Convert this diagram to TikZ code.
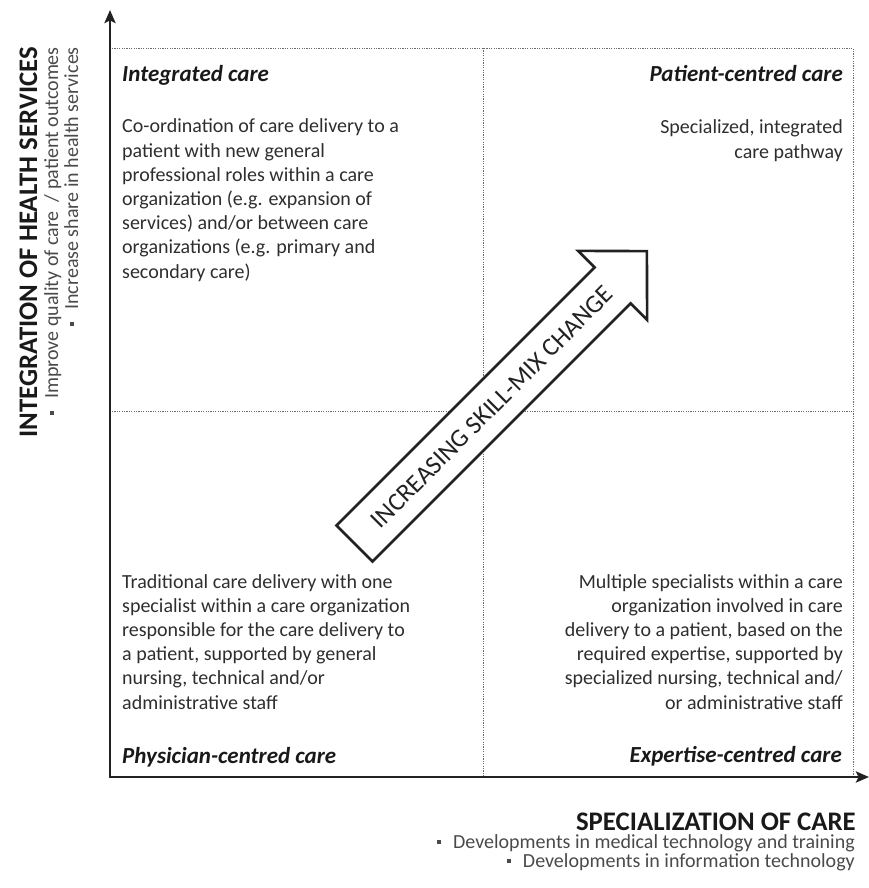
\documentclass[tikz,border=0pt]{standalone}
\usepackage{fontspec}
\setmainfont{Carlito}
\usetikzlibrary{arrows.meta}
\definecolor{bodyc}{HTML}{2E2E2E}
\definecolor{subc}{HTML}{4A4A4A}
\definecolor{axc}{HTML}{222222}
\definecolor{dotc}{HTML}{6A6A6A}
\newcommand{\sqb}{{\rule[0.18em]{0.2em}{0.2em}}\hspace{0.6em}}
\tikzset{
  body/.style={inner sep=0pt, text=bodyc, font=\fontsize{20}{24.2}\selectfont},
  qtitle/.style={inner sep=0pt, text=black!90, font=\fontsize{23}{24}\selectfont\bfseries\itshape},
  axtitle/.style={inner sep=0pt, text=black!90, font=\fontsize{26.8}{27}\selectfont\bfseries},
  subl/.style={inner sep=0pt, text=subc, font=\fontsize{20}{20}\selectfont},
  axis/.style={draw=axc, line width=2.6pt, -{Stealth[length=13pt,width=11pt,inset=2.5pt]}},
  grid/.style={draw=dotc, line width=0.9pt, dash pattern=on 1.2pt off 1.2pt},
  bigarrow/.style={draw=axc, line width=2.6pt, fill=white, line join=miter}
}
\begin{document}
\begin{tikzpicture}[x=1pt,y=-1pt]
\useasboundingbox (0,0) rectangle (869,888);
% grid
\coordinate (tl) at (112,48);
\coordinate (tm) at (483,48);
\coordinate (tr) at (853,48);
\coordinate (ml) at (112,411);
\coordinate (mr) at (853,411);
\coordinate (bm) at (483,777);
\coordinate (br) at (853,777);
\draw[grid] (tl) -- (tr) -- (br);
\draw[grid] (tm) -- (bm);
\draw[grid] (ml) -- (mr);
% axes
\coordinate (o) at (110,777);
\coordinate (ytip) at (110,10);
\coordinate (xo) at (109,777);
\coordinate (xtip) at (869,777);
\draw[axis] (o) -- (ytip);
\draw[axis] (xo) -- (xtip);
% big arrow
\coordinate (a1) at (336.5,525.5);
\coordinate (a2) at (594.6,267.4);
\coordinate (a3) at (578.1,250.9);
\coordinate (a4) at (646.9,251.1);
\coordinate (a5) at (647.1,319.9);
\coordinate (a6) at (630.6,303.4);
\coordinate (a7) at (372.5,561.5);
\draw[bigarrow] (a1) -- (a2) -- (a3) -- (a4) -- (a5) -- (a6) -- (a7) -- cycle;
\node[inner sep=0pt, rotate=45, text=axc, font=\fontsize{25.5}{26}\selectfont] (arrtext) at (492,407) {INCREASING SKILL-MIX CHANGE};
% quadrant texts
\node[qtitle, anchor=base west] (ictitle) at (122,82) {Integrated care};
\node[body, anchor=base west, align=left] (icbody) at (122,278) {Co-ordination of care delivery to a\\patient with new general\\professional roles within a care\\organization (e.g. expansion of\\services) and/or between care\\organizations (e.g. primary and\\secondary care)};
\node[qtitle, anchor=base east] (pctitle) at (843,82) {Patient-centred care};
\node[body, anchor=base east, align=right] (pcbody) at (843,158) {Specialized, integrated\\care pathway};
\node[body, anchor=base west, align=left] (phbody) at (122,709) {Traditional care delivery with one\\specialist within a care organization\\responsible for the care delivery to\\a patient, supported by general\\nursing, technical and/or\\administrative staff};
\node[qtitle, anchor=base west] (phtitle) at (122,763) {Physician-centred care};
\node[body, anchor=base east, align=right] (exbody) at (843,709) {Multiple specialists within a care\\organization involved in care\\delivery to a patient, based on the\\required expertise, supported by\\specialized nursing, technical and/\\or administrative staff};
\node[qtitle, anchor=base east] (extitle) at (842,762) {Expertise-centred care};
% vertical axis labels
\node[axtitle, anchor=base east, rotate=90] (ytitle) at (37,47) {INTEGRATION OF HEALTH SERVICES};
\node[subl, anchor=base east, rotate=90] (ysub1) at (58,47) {\sqb Improve quality of care~ / patient outcomes};
\node[subl, anchor=base east, rotate=90] (ysub2) at (78,47) {\sqb Increase share in health services};
% horizontal axis labels
\node[axtitle, anchor=base east] (xtitle) at (856,830) {SPECIALIZATION OF CARE};
\node[subl, anchor=base east] (xsub1) at (855,848) {\sqb Developments in medical technology and training};
\node[subl, anchor=base east] (xsub2) at (855,867) {\sqb Developments in information technology};
\end{tikzpicture}
\end{document}
